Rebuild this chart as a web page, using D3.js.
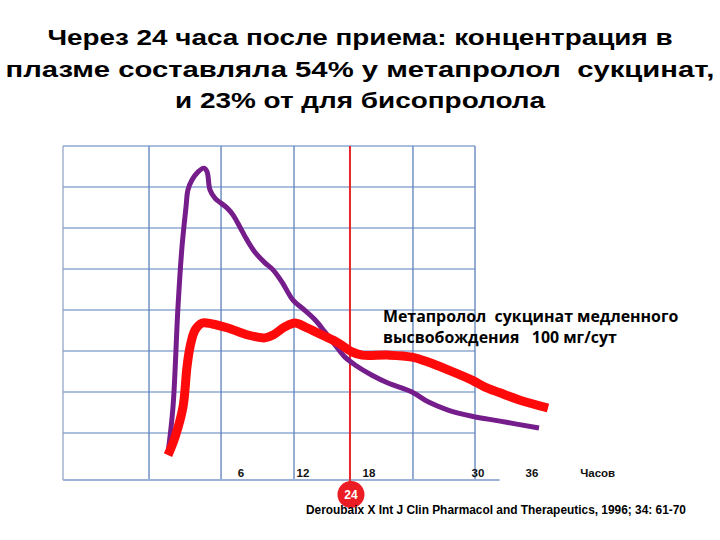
<!DOCTYPE html>
<html><head><meta charset="utf-8">
<script src="https://cdn.jsdelivr.net/npm/d3@7"></script>
<style>body{margin:0;background:#fff}svg{display:block}</style>
</head><body>
<svg id="c" width="720" height="540"></svg>
<script>
const titleLines = ["Через 24 часа после приема: концентрация в",
  "плазме составляла 54% у метапролол  сукцинат,",
  "и 23% от для бисопролола"];
const annotationLines = ["Метапролол  сукцинат медленного", "высвобождения   100 мг/сут"];
const source = "Deroubaix X Int J Clin Pharmacol and Therapeutics, 1996; 34: 61-70";
const tickHours = [6, 12, 18, 30, 36];
const tickLabels = ["6", "12", "18", "30", "36"];
const unitLabel = "Часов";
const unitHour = 43.3;
const markerLabel = "24";
// grid (vertical lines at hour positions, horizontal at concentration units)
const gridHours = [-8.63, -1.56, 4.36, 11.13, 22.84, 29.67];
const gridLevels = [1, 2, 3, 4, 5, 6, 7, 8];
const markerHour = 16.27;
// purple curve
const purpleHours = [0, 0.41, 0.82, 1.15, 1.48, 1.64, 1.97, 2.47, 2.96, 3.21, 3.45, 3.86, 4.85, 5.34, 5.92, 6.58, 7.35, 8.32, 9.1, 9.97, 11.03, 11.9, 13.09, 14.0, 14.91, 15.82, 16.73, 18.33, 20.09, 22.73, 24.5, 26.7, 29.34, 32.44, 36.78];
const purpleValues = [0.51, 1.63, 4.07, 5.54, 6.51, 6.93, 7.17, 7.37, 7.46, 7.37, 6.93, 6.73, 6.49, 6.32, 6.02, 5.71, 5.41, 5.15, 4.98, 4.68, 4.24, 4.05, 3.76, 3.46, 3.15, 2.85, 2.66, 2.41, 2.22, 2.0, 1.76, 1.56, 1.41, 1.29, 1.12];
// red curve (metoprolol succinate)
const redHours = [0, 0.58, 1.23, 1.56, 1.81, 2.22, 2.79, 3.62, 4.93, 6.68, 8.32, 9.1, 10.26, 11.23, 12.18, 13.73, 15.18, 16.45, 17.36, 20.09, 22.73, 24.5, 26.7, 29.34, 30.78, 32.44, 34.67, 37.78];
const redValues = [0.46, 0.9, 1.63, 2.61, 3.1, 3.51, 3.68, 3.66, 3.56, 3.39, 3.32, 3.39, 3.59, 3.68, 3.59, 3.39, 3.2, 2.98, 2.9, 2.9, 2.85, 2.73, 2.54, 2.29, 2.12, 1.98, 1.8, 1.61];

const svg = d3.select("#c");
const x = d3.scaleLinear().domain([0, 6, 12, 18, 30, 36]).range([168, 241, 303, 369, 478, 532]);
const y = d3.scaleLinear().domain([0, 8]).range([474, 146]);
const left = x(gridHours[0]), right = x(gridHours[gridHours.length - 1]), bottom = 480;

// horizontal grid
svg.append("g").selectAll("line").data(gridLevels).join("line")
  .attr("x1", left).attr("x2", right)
  .attr("y1", d => y(d)).attr("y2", d => y(d))
  .attr("stroke", "#8eaad2").attr("stroke-width", 1.5);
// vertical grid
svg.append("g").selectAll("line").data(gridHours).join("line")
  .attr("x1", d => x(d)).attr("x2", d => x(d))
  .attr("y1", y(8)).attr("y2", bottom)
  .attr("stroke", (d, i) => i === 0 ? "#94a6c4" : "#5b80b8").attr("stroke-width", 1.3);
// bottom axis line
svg.append("line").attr("x1", left).attr("x2", x(32.4)).attr("y1", bottom).attr("y2", bottom)
  .attr("stroke", "#9db2d6").attr("stroke-width", 2);

// marker line
svg.append("line").attr("x1", x(markerHour)).attr("x2", x(markerHour))
  .attr("y1", y(8)).attr("y2", 490).attr("stroke", "#e8262a").attr("stroke-width", 2);

const line = d3.line().curve(d3.curveCatmullRom.alpha(0.5));
svg.append("path").attr("d", line(purpleHours.map((h, i) => [x(h), y(purpleValues[i])])))
  .attr("fill", "none").attr("stroke", "#761d8c").attr("stroke-width", 5)
  .attr("stroke-linejoin", "round").attr("stroke-linecap", "butt");
svg.append("path").attr("d", line(redHours.map((h, i) => [x(h), y(redValues[i])])))
  .attr("fill", "none").attr("stroke", "#ff0a0a").attr("stroke-width", 9)
  .attr("stroke-linejoin", "round").attr("stroke-linecap", "butt");

// marker circle
svg.append("circle").attr("cx", x(markerHour) + 1).attr("cy", 494.5).attr("r", 13.5).attr("fill", "#ec1c24");
svg.append("text").attr("x", x(markerHour) + 1).attr("y", 499).attr("text-anchor", "middle")
  .attr("font-family", "Liberation Sans, Arial, sans-serif").attr("font-weight", "bold")
  .attr("font-size", 12).attr("fill", "#fff").text(markerLabel);

// tick labels
svg.append("g").selectAll("text").data(tickHours).join("text")
  .attr("x", d => x(d)).attr("y", 477).attr("text-anchor", "middle")
  .attr("font-family", "Liberation Sans, Arial, sans-serif").attr("font-weight", "bold")
  .attr("font-size", 11.5).attr("fill", "#111").text((d, i) => tickLabels[i]);
svg.append("text").attr("x", x(unitHour)).attr("y", 477).attr("text-anchor", "middle")
  .attr("font-family", "Liberation Sans, Arial, sans-serif").attr("font-weight", "bold")
  .attr("font-size", 11.5).attr("fill", "#111").text(unitLabel);

// title (glyphs in reference are horizontally stretched)
const titleWidths = [625, 709, 370];
svg.append("g").selectAll("text").data(titleLines).join("text")
  .attr("x", 360).attr("y", (d, i) => 45 + i * 31.5).attr("text-anchor", "middle")
  .attr("font-family", "Liberation Sans, Arial, sans-serif").attr("font-weight", "bold")
  .attr("font-size", 22.5).attr("fill", "#000").attr("xml:space", "preserve")
  .attr("textLength", (d, i) => titleWidths[i]).attr("lengthAdjust", "spacingAndGlyphs")
  .text(d => d);

// annotation
svg.append("g").selectAll("text").data(annotationLines).join("text")
  .attr("x", 383).attr("y", (d, i) => 322 + i * 20.5)
  .attr("font-family", "Open Sans, sans-serif").attr("font-weight", "bold")
  .attr("font-size", 15.9).attr("fill", "#000").attr("xml:space", "preserve").text(d => d);

// source
svg.append("text").attr("x", 306).attr("y", 514)
  .attr("font-family", "Liberation Sans, Arial, sans-serif").attr("font-weight", "bold")
  .attr("font-size", 11.9).attr("fill", "#000").text(source);
</script>
</body></html>
